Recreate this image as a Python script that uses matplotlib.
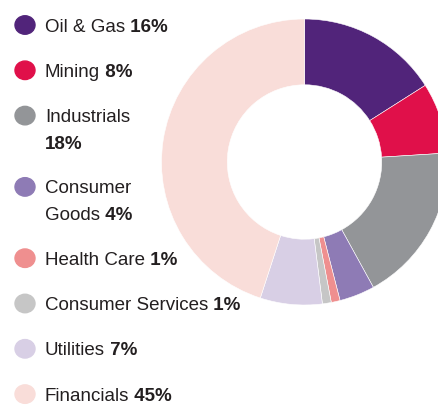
import matplotlib.pyplot as plt
from matplotlib.patches import Circle

# Sector split
sectors = ['Oil & Gas', 'Mining', 'Industrials', 'Consumer\nGoods', 'Health Care',
           'Consumer Services', 'Utilities', 'Financials']
shares = [16, 8, 18, 4, 1, 1, 7, 45]
colors = ['#51247a', '#e0104a', '#939598', '#8e7bb5', '#ef8f8f',
          '#c6c6c6', '#d8cfe5', '#f9ddd9']

W, H = 438, 405
fig = plt.figure(figsize=(W / 100, H / 100), dpi=100)
plt.rcParams['font.family'] = ['Liberation Sans', 'DejaVu Sans']

# donut: centre (304.5, 162) px from top-left, radius 143 px
cx, cy, r = 304.5, 162, 143
ax = fig.add_axes([(cx - r) / W, (H - cy - r) / H, 2 * r / W, 2 * r / H])
ax.pie(shares, colors=colors, startangle=90, counterclock=False,
       wedgeprops=dict(width=0.46, edgecolor='white', linewidth=0.4))
ax.set_xlim(-1, 1)
ax.set_ylim(-1, 1)
ax.set_aspect('equal')
ax.axis('off')

# legend drawn by hand
def fx(px):
    return px / W

def fy(py):
    return (H - py) / H

renderer = fig.canvas.get_renderer()
txt_color = '#231f20'
fs = 13.5
y = 25
for name, val, col in zip(sectors, shares, colors):
    fig.patches.append(Circle((fx(25), fy(y)), 10 / W, color=col,
                              transform=fig.transFigure, figure=fig))
    lines = name.split('\n')
    base = y + 6.5
    for k, line in enumerate(lines):
        t = fig.text(fx(45), fy(base + 27 * k), line, fontsize=fs,
                     color=txt_color, va='baseline', ha='left')
    bb = t.get_window_extent(renderer)
    last_y = base + 27 * (len(lines) - 1)
    if name == 'Industrials':
        # value goes on its own line
        last_y = base + 27
        xpos = fx(45)
        label = f'{val}%'
    else:
        xpos = bb.x1 / W
        label = f' {val}%'
    fig.text(xpos, fy(last_y), label, fontsize=fs, fontweight='bold',
             color=txt_color, va='baseline', ha='left')
    extra = 26 if (len(lines) > 1 or name == 'Industrials') else 0
    y += 45.3 + extra

fig.savefig('out.png', dpi=100)
